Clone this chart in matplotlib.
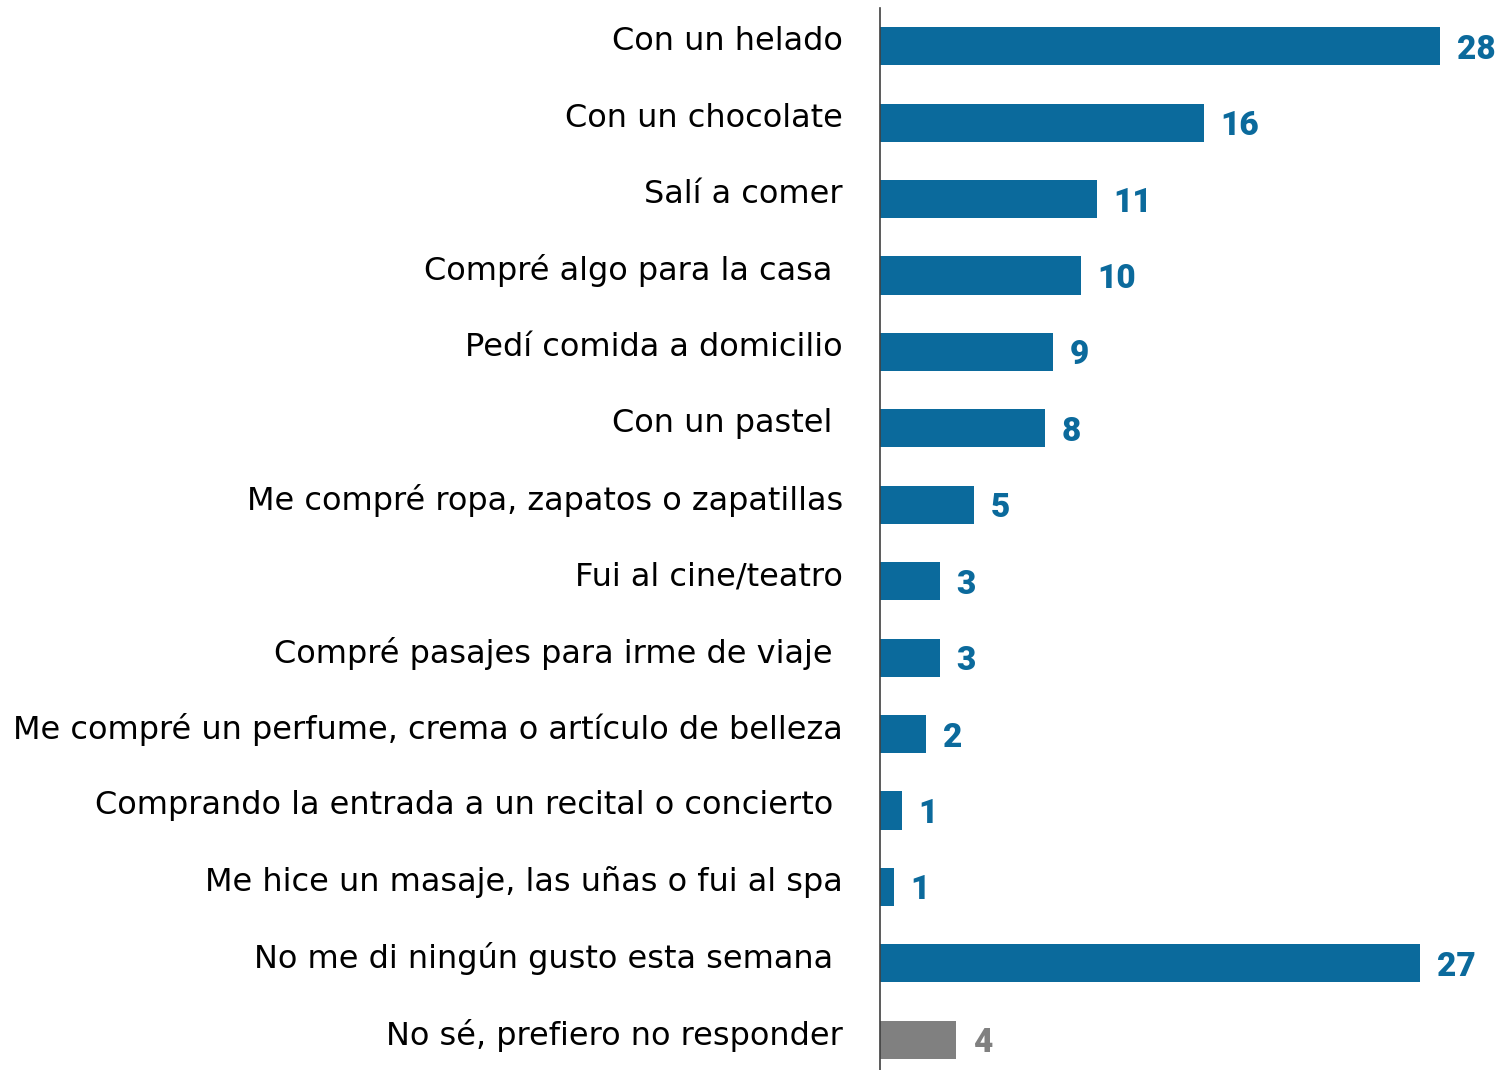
import matplotlib
matplotlib.use('Agg')
import matplotlib.pyplot as plt
from matplotlib.transforms import blended_transform_factory

categories = [
    'Con un helado',
    'Con un chocolate',
    'Salí a comer',
    'Compré algo para la casa ',
    'Pedí comida a domicilio',
    'Con un pastel ',
    'Me compré ropa, zapatos o zapatillas',
    'Fui al cine/teatro',
    'Compré pasajes para irme de viaje ',
    'Me compré un perfume, crema o artículo de belleza',
    'Comprando la entrada a un recital o concierto ',
    'Me hice un masaje, las uñas o fui al spa',
    'No me di ningún gusto esta semana ',
    'No sé, prefiero no responder',
]
values = [28.0, 16.2, 10.85, 10.05, 8.65, 8.25, 4.7, 3.0, 3.0, 2.3, 1.1, 0.7, 27.0, 3.8]
labels = ['28', '16', '11', '10', '9', '8', '5', '3', '3', '2', '1', '1', '27', '4']

blue = '#0B6A9C'
gray = '#808080'
colors = [blue] * 13 + [gray]

W, H = 1496, 1070
fig = plt.figure(figsize=(W / 100, H / 100), dpi=100)
ax = fig.add_axes([880 / W, -8 / H, 616 / W, 1070 / H])

ypos = list(range(len(categories)))
ax.barh(ypos, values, height=0.5, color=colors)
ax.set_xlim(0, 30.8)
ax.set_ylim(len(categories) - 0.5, -0.5)

for s in ['top', 'right', 'bottom']:
    ax.spines[s].set_visible(False)
ax.spines['left'].set_color('#404040')
ax.spines['left'].set_linewidth(1.2)
ax.set_xticks([])
ax.set_yticks([])

# category names to the left of the axis line
trans = blended_transform_factory(ax.transAxes, ax.transData)
for y, cat in zip(ypos, categories):
    ax.text(-37 / 616, y - 0.06, cat, transform=trans, ha='right', va='center',
            fontsize=23, family='DejaVu Sans', color='black')

# rounded value at the end of each bar
for y, v, lab, c in zip(ypos, values, labels, colors):
    ax.annotate(lab, (v, y), xytext=(12, -2.5), textcoords='offset points',
                ha='left', va='center', fontsize=24, family='Roboto',
                fontweight='heavy', color=c)

fig.savefig('out.png', dpi=100)
